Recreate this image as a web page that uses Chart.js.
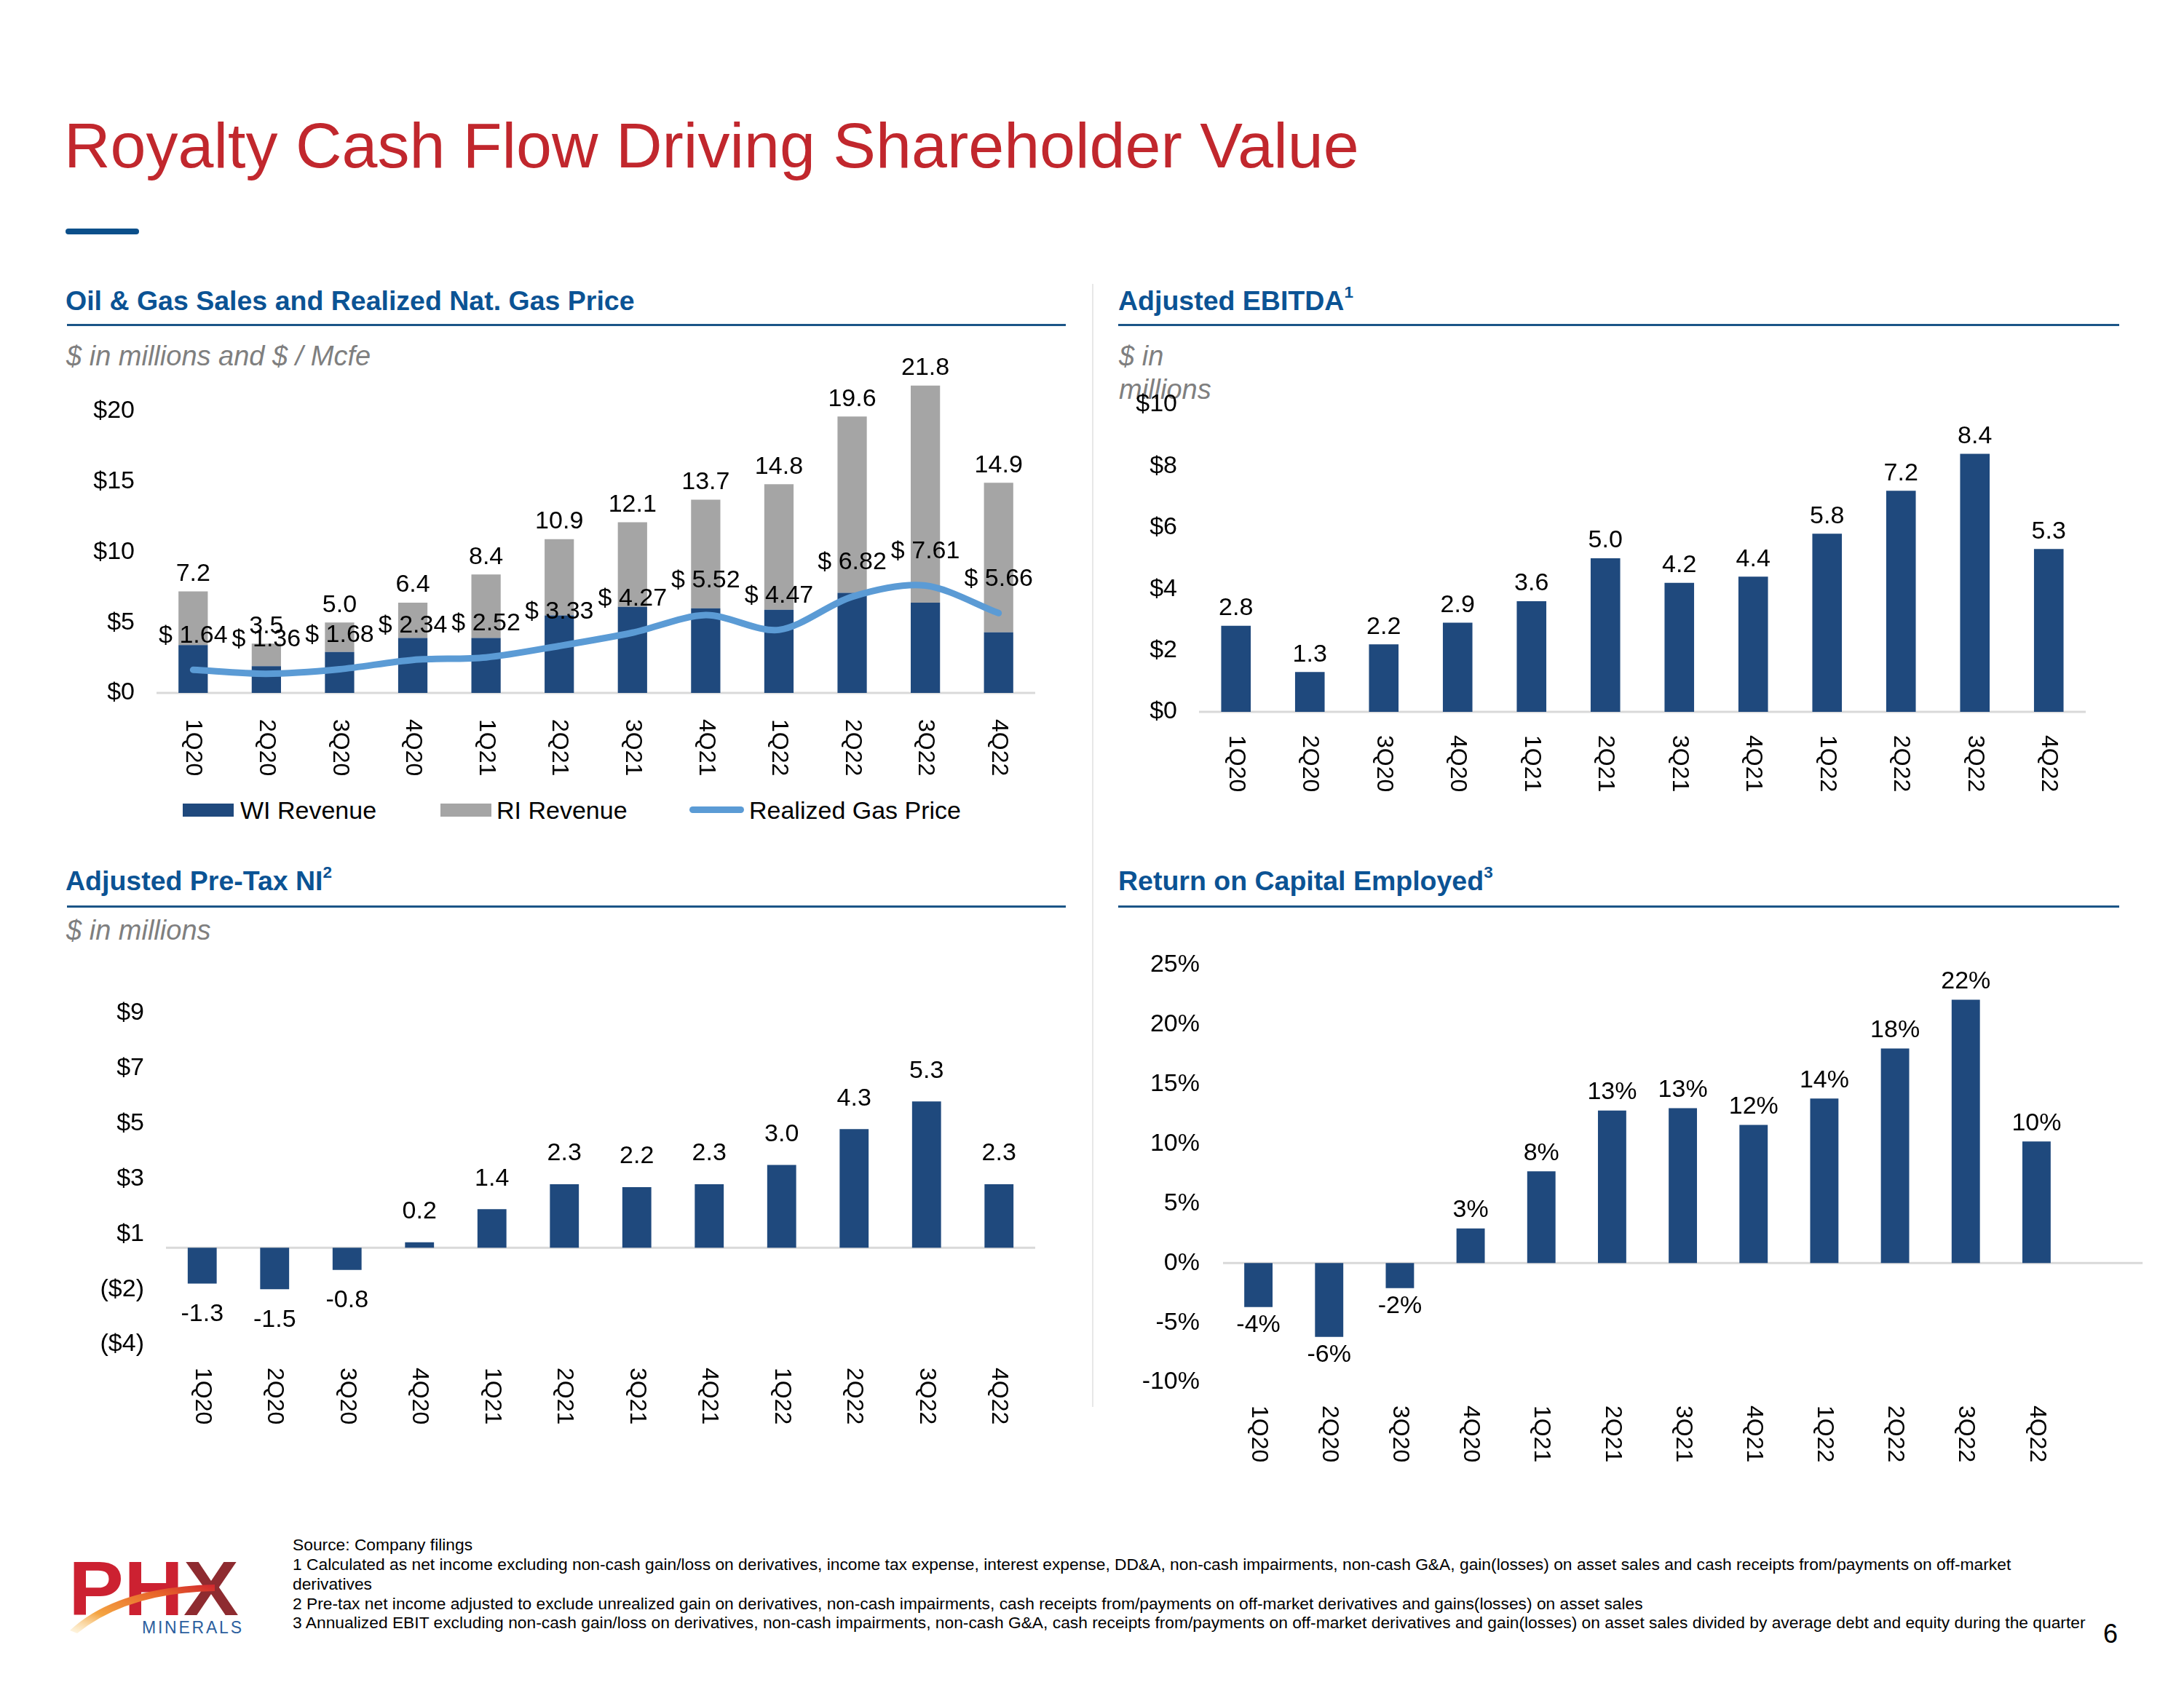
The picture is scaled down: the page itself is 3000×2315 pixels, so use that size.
<!DOCTYPE html>
<html><head><meta charset="utf-8">
<script src="https://cdn.jsdelivr.net/npm/chart.js@4/dist/chart.umd.min.js"></script>
<style>
html,body{margin:0;padding:0;background:#fff;}
#page{position:relative;width:3000px;height:2315px;background:#fff;overflow:hidden;font-family:"Liberation Sans",Arial,sans-serif;}
.t{position:absolute;white-space:nowrap;line-height:1;}
.hd{font-weight:bold;font-size:37.5px;color:#0B5394;}
.hd sup{font-size:60%;vertical-align:0;position:relative;top:-0.75em;}
.sub{font-style:italic;font-size:38px;color:#7F7F7F;}
.rule{position:absolute;height:3px;background:#1B5587;}
.fn{font-size:22.8px;color:#000;}
.lg{font-size:34px;color:#000;}
canvas{position:absolute;}
</style></head><body><div id="page">
<div class="t" style="left:88px;top:156px;font-size:88px;color:#C1272D;">Royalty Cash Flow Driving Shareholder Value</div>
<div style="position:absolute;left:90px;top:314px;width:101px;height:8px;border-radius:4px;background:#0B4F8A;"></div>

<div class="t hd" style="left:90px;top:395px;">Oil &amp; Gas Sales and Realized Nat. Gas Price</div>
<div class="rule" style="left:92px;top:445px;width:1372px;"></div>
<div class="t sub" style="left:91px;top:470px;">$ in millions and $ / Mcfe</div>

<div class="t hd" style="left:1536px;top:395px;">Adjusted EBITDA<sup>1</sup></div>
<div class="rule" style="left:1536px;top:445px;width:1375px;"></div>
<div class="t sub" style="left:1537px;top:470px;">$ in</div>
<div class="t sub" style="left:1537px;top:516px;">millions</div>

<div class="t hd" style="left:90px;top:1192px;">Adjusted Pre-Tax NI<sup>2</sup></div>
<div class="rule" style="left:92px;top:1244px;width:1372px;"></div>
<div class="t sub" style="left:91px;top:1259px;">$ in millions</div>

<div class="t hd" style="left:1536px;top:1192px;">Return on Capital Employed<sup>3</sup></div>
<div class="rule" style="left:1536px;top:1244px;width:1375px;"></div>

<div style="position:absolute;left:1500px;top:390px;width:2px;height:1543px;background:#E7E7E7;"></div>

<!-- legend for chart 1 -->
<div style="position:absolute;left:251px;top:1104px;width:70px;height:18px;background:#1F497D;"></div>
<div class="t lg" style="left:330px;top:1096px;">WI Revenue</div>
<div style="position:absolute;left:605px;top:1104px;width:70px;height:18px;background:#A5A5A5;"></div>
<div class="t lg" style="left:682px;top:1096px;">RI Revenue</div>
<div style="position:absolute;left:947px;top:1108px;width:75px;height:9px;border-radius:5px;background:#5B9BD5;"></div>
<div class="t lg" style="left:1029px;top:1096px;">Realized Gas Price</div>

<canvas id="c1"></canvas>
<canvas id="c2"></canvas>
<canvas id="c3"></canvas>
<canvas id="c4"></canvas>

<!-- footnotes -->
<div class="t fn" style="left:402px;top:2111px;">Source: Company filings</div>
<div class="t fn" style="left:402px;top:2138px;">1 Calculated as net income excluding non-cash gain/loss on derivatives, income tax expense, interest expense, DD&amp;A, non-cash impairments, non-cash G&amp;A, gain(losses) on asset sales and cash receipts from/payments on off-market</div>
<div class="t fn" style="left:402px;top:2165px;">derivatives</div>
<div class="t fn" style="left:402px;top:2192px;">2 Pre-tax net income adjusted to exclude unrealized gain on derivatives, non-cash impairments, cash receipts from/payments on off-market derivatives and gains(losses) on asset sales</div>
<div class="t fn" style="left:402px;top:2218px;">3 Annualized EBIT excluding non-cash gain/loss on derivatives, non-cash impairments, non-cash G&amp;A, cash receipts from/payments on off-market derivatives and gain(losses) on asset sales divided by average debt and equity during the quarter</div>
<div class="t" style="left:2889px;top:2227px;font-size:36px;color:#000;">6</div>

<!-- logo -->
<svg style="position:absolute;left:80px;top:2130px;" width="270" height="130" viewBox="0 0 270 130">
<defs>
<linearGradient id="sw" x1="0" y1="1" x2="1" y2="0">
<stop offset="0" stop-color="#FBE3A8" stop-opacity="0.3"/>
<stop offset="0.3" stop-color="#F4A442"/>
<stop offset="0.7" stop-color="#E8672A"/>
<stop offset="1" stop-color="#D0262F"/>
</linearGradient>
<linearGradient id="xg" x1="0" y1="0" x2="1" y2="0">
<stop offset="0.45" stop-color="#CC2131"/>
<stop offset="0.55" stop-color="#8E2B30"/>
</linearGradient>
</defs>
<text x="14" y="89" font-family="Liberation Sans, Arial, sans-serif" font-weight="bold" font-size="106" textLength="234" lengthAdjust="spacingAndGlyphs"><tspan fill="#CC2131">PH</tspan><tspan fill="url(#xg)">X</tspan></text>
<path d="M16 110 Q 80 50 215 47 L 215 56 Q 95 58 26 114 Z" fill="url(#sw)"/>
<text x="115" y="114" font-family="Liberation Sans, Arial, sans-serif" font-size="23" fill="#2C5F9E" textLength="137" lengthAdjust="spacing">MINERALS</text>
</svg>
</div>
<script>
// ---------- data ----------
const quarters = ['1Q20','2Q20','3Q20','4Q20','1Q21','2Q21','3Q21','4Q21','1Q22','2Q22','3Q22','4Q22'];
const wiRevenue = [3.4,1.9,2.9,3.9,3.9,5.5,6.1,6.0,5.9,7.1,6.4,4.3];
const riRevenue = [3.8,1.6,2.1,2.5,4.5,5.4,6.0,7.7,8.9,12.5,15.4,10.6];
const gasPrice = [1.64,1.36,1.68,2.34,2.52,3.33,4.27,5.52,4.47,6.82,7.61,5.66];
const ebitda = [2.8,1.3,2.2,2.9,3.6,5.0,4.2,4.4,5.8,7.2,8.4,5.3];
const pretaxNI = [-1.3,-1.5,-0.8,0.2,1.4,2.3,2.2,2.3,3.0,4.3,5.3,2.3];
const roce = [-3.7,-6.2,-2.1,2.9,7.7,12.8,13.0,11.6,13.8,18.0,22.1,10.2];

const FONT = "'Liberation Sans', Arial, sans-serif";
const NAVY = '#1F497D', GRAY = '#A5A5A5', LIGHT = '#5B9BD5';
Chart.defaults.font.family = FONT;
Chart.defaults.color = '#000';

const deco = {
  id: 'deco',
  beforeDatasetsDraw(chart, args, o) {
    const {ctx, chartArea, scales: {y}} = chart;
    const y0 = y.getPixelForValue(0);
    const step = (chartArea.right - chartArea.left) / chart.data.labels.length;
    ctx.save();
    ctx.strokeStyle = '#D9D9D9'; ctx.lineWidth = 3;
    ctx.beginPath(); ctx.moveTo(chartArea.left, y0);
    ctx.lineTo(chartArea.right + (o.extend || 0) * step, y0); ctx.stroke();
    ctx.restore();
  },
  afterDatasetsDraw(chart, args, o) {
    const {ctx, chartArea, scales: {x, y}} = chart;
    ctx.save();
    ctx.fillStyle = '#000';
    ctx.font = '32px ' + FONT;
    ctx.textAlign = 'left'; ctx.textBaseline = 'middle';
    chart.data.labels.forEach((l, i) => {
      const px = x.getPixelForValue(i);
      ctx.save(); ctx.translate(px, chartArea.bottom + o.gap); ctx.rotate(Math.PI / 2);
      ctx.fillText(l, 0, 0); ctx.restore();
    });
    ctx.font = '34px ' + FONT;
    ctx.textAlign = 'center';
    (o.labels ? o.labels(chart) : []).forEach(L => {
      ctx.fillText(L.text, L.x, L.y);
    });
    ctx.restore();
  }
};

function barLabels(values, off, fmt) {
  return chart => {
    const {x, y} = chart.scales;
    return values.map((v, i) => ({
      x: x.getPixelForValue(i),
      y: v >= 0 ? y.getPixelForValue(v) - off : y.getPixelForValue(v) + off,
      text: fmt(v)
    }));
  };
}

function build(id, box, datasets, yOpts, decoOpts, stacked) {
  const YW = 190, PT = 80, PB = 160, PR = 120;
  const c = document.getElementById(id);
  const w = YW + (box.right - box.left) + PR;
  const h = PT + (box.bottom - box.top) + PB;
  c.width = w; c.height = h;
  c.style.left = (box.left - YW) + 'px';
  c.style.top = (box.top - PT) + 'px';
  c.style.width = w + 'px'; c.style.height = h + 'px';
  return new Chart(c, {
    type: 'bar',
    data: {labels: quarters, datasets},
    options: {
      responsive: false, animation: false, devicePixelRatio: 1,
      layout: {padding: {top: PT, bottom: PB, right: PR, left: 0}},
      plugins: {legend: {display: false}, tooltip: {enabled: false}, deco: decoOpts},
      scales: {
        x: {display: false, stacked: !!stacked},
        y: Object.assign({
          stacked: !!stacked,
          grid: {display: false, drawTicks: false, tickLength: 0},
          border: {display: false},
          afterFit(s) { s.width = YW; }
        }, yOpts)
      }
    },
    plugins: [deco]
  });
}

const barBase = {categoryPercentage: 1, barPercentage: 0.4, order: 1};

// Chart 1: Oil & Gas Sales + gas price
build('c1', {left: 215, right: 1422, top: 487, bottom: 952}, [
  Object.assign({label: 'WI Revenue', data: wiRevenue, backgroundColor: NAVY}, barBase),
  Object.assign({label: 'RI Revenue', data: riRevenue, backgroundColor: GRAY}, barBase),
  {type: 'line', label: 'Realized Gas Price', data: gasPrice, borderColor: LIGHT, borderWidth: 9,
   pointRadius: 0, tension: 0.3, borderCapStyle: 'round', borderJoinStyle: 'round', order: 0, fill: false}
], {
  min: 0, max: 24,
  ticks: {stepSize: 5, padding: 30, font: {size: 34}, color: '#000', callback: v => '$' + v},
  afterBuildTicks(s) { s.ticks = s.ticks.filter(t => Math.abs(t.value % 5) < 1e-9); }
}, {
  gap: 36,
  labels: chart => {
    const {x, y} = chart.scales;
    const out = [];
    quarters.forEach((q, i) => {
      const tot = wiRevenue[i] + riRevenue[i];
      out.push({x: x.getPixelForValue(i), y: y.getPixelForValue(tot) - 24, text: tot.toFixed(1)});
      out.push({x: x.getPixelForValue(i), y: y.getPixelForValue(gasPrice[i]) - 47, text: '$ ' + gasPrice[i].toFixed(2)});
    });
    return out;
  }
}, true);

// Chart 2: Adjusted EBITDA
build('c2', {left: 1647, right: 2865, top: 556, bottom: 978}, [
  Object.assign({label: 'Adjusted EBITDA', data: ebitda, backgroundColor: NAVY}, barBase)
], {
  min: 0, max: 10,
  ticks: {stepSize: 2, padding: 30, font: {size: 34}, color: '#000', callback: v => '$' + v}
}, {gap: 32, labels: barLabels(ebitda, 24, v => v.toFixed(1))});

// Chart 3: Adjusted Pre-Tax NI
build('c3', {left: 228, right: 1422, top: 1392, bottom: 1847}, [
  Object.assign({label: 'Adjusted Pre-Tax NI', data: pretaxNI, backgroundColor: NAVY}, barBase)
], {
  min: -3.5, max: 8.5,
  ticks: {stepSize: 2, padding: 30, font: {size: 34}, color: '#000',
    callback: v => { const r = Math.round(Math.abs(v) + 1e-9); return v >= 0 ? '$' + r : '($' + r + ')'; }}
}, {gap: 32, labels: barLabels(pretaxNI, 42, v => v.toFixed(1))});

// Chart 4: ROCE
build('c4', {left: 1680, right: 2846, top: 1326, bottom: 1899}, [
  Object.assign({label: 'Return on Capital Employed', data: roce, backgroundColor: NAVY}, barBase)
], {
  min: -10, max: 25,
  ticks: {stepSize: 5, padding: 32, font: {size: 34}, color: '#000', callback: v => v + '%'}
}, {gap: 32, extend: 1, labels: barLabels(roce, 25, v => Math.round(v) + '%')});
</script>
</body></html>
